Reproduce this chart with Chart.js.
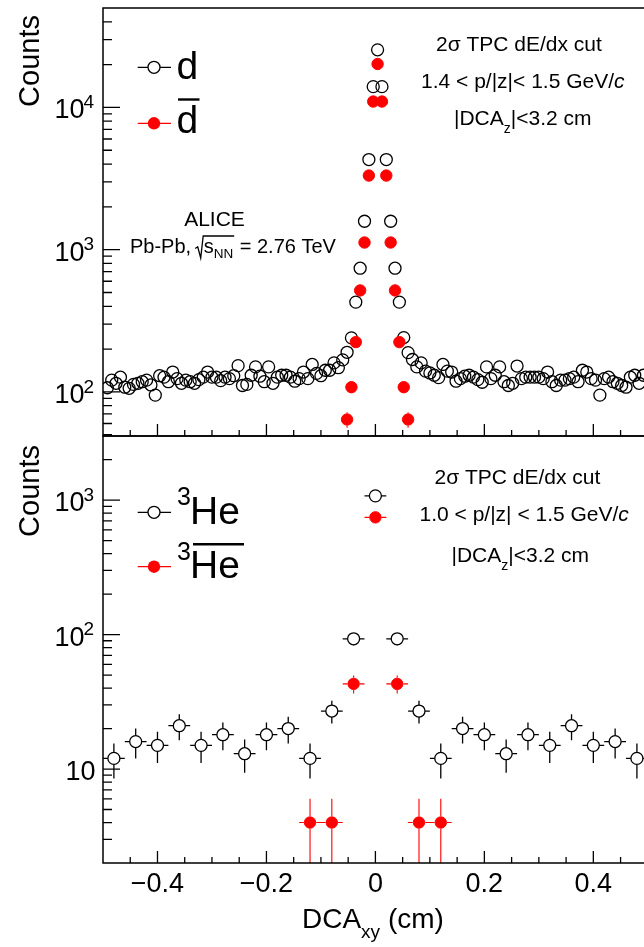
<!DOCTYPE html>
<html>
<head>
<meta charset="utf-8">
<script src="https://cdn.jsdelivr.net/npm/chart.js@4.4.1/dist/chart.umd.min.js"></script>
<style>
  html, body { margin: 0; padding: 0; background: #fff; overflow: hidden; }
  #wrap { position: relative; width: 644px; height: 947px; }
  canvas { position: absolute; left: 0; top: 0; }
</style>
</head>
<body>
<div id="wrap">
  <canvas id="cBottom" width="644" height="947"></canvas>
  <canvas id="cTop" width="644" height="947"></canvas>
</div>
<script>
// deuterons, bin centres (cm) and counts
const dDCA = [
  -0.492, -0.484, -0.476, -0.468, -0.460, -0.452, -0.444, -0.436, -0.428, -0.420,
  -0.412, -0.404, -0.396, -0.388, -0.380, -0.372, -0.364, -0.356, -0.348, -0.340,
  -0.332, -0.324, -0.316, -0.308, -0.300, -0.292, -0.284, -0.276, -0.268, -0.260,
  -0.252, -0.244, -0.236, -0.228, -0.220, -0.212, -0.204, -0.196, -0.188, -0.180,
  -0.172, -0.164, -0.156, -0.148, -0.140, -0.132, -0.124, -0.116, -0.108, -0.100,
  -0.092, -0.084, -0.076, -0.068, -0.060, -0.052, -0.044, -0.036, -0.028, -0.020,
  -0.012, -0.004,
  0.004, 0.012, 0.020, 0.028, 0.036, 0.044, 0.052, 0.060,
  0.068, 0.076, 0.084, 0.092, 0.100, 0.108, 0.116, 0.124, 0.132, 0.140,
  0.148, 0.156, 0.164, 0.172, 0.180, 0.188, 0.196, 0.204, 0.212, 0.220,
  0.228, 0.236, 0.244, 0.252, 0.260, 0.268, 0.276, 0.284, 0.292, 0.300,
  0.308, 0.316, 0.324, 0.332, 0.340, 0.348, 0.356, 0.364, 0.372, 0.380,
  0.388, 0.396, 0.404, 0.412, 0.420, 0.428, 0.436, 0.444, 0.452, 0.460,
  0.468, 0.476, 0.484, 0.492
];
const dCounts = [
  107, 121, 115, 127, 108, 106, 113, 115, 118, 121,
  112, 95, 130, 127, 118, 138, 124, 115, 121, 118,
  115, 122, 127, 138, 127, 127, 120, 127, 124, 130,
  153, 111, 113, 131, 150, 129, 118, 150, 115, 127,
  131, 131, 127, 119, 124, 138, 124, 156, 135, 130,
  142, 142, 160, 148, 168, 190, 240, 428, 741, 1585,
  4300, 14000,
  25400, 14000, 4300, 1585, 741, 428, 241, 189,
  169, 150, 160, 140, 136, 131, 126, 156, 140, 138,
  119, 124, 129, 131, 127, 122, 117, 150, 124, 131,
  150, 118, 111, 115, 152, 124, 127, 127, 127, 127,
  124, 138, 118, 111, 121, 121, 124, 127, 118, 142,
  138, 124, 121, 95, 124, 127, 118, 115, 111, 108,
  127, 131, 115, 131
];

// anti-deuterons
const dbarDCA = [-0.052, -0.044, -0.036, -0.028, -0.020, -0.012, -0.004, 0.004, 0.012, 0.020, 0.028, 0.036, 0.044, 0.052, 0.060];
const dbarCounts = [64, 108, 224, 517, 1123, 3320, 11000, 20200, 11000, 3320, 1123, 517, 224, 108, 64];
const dbarErr = [8, 10, 15, 23, 34, 58, 105, 142, 105, 58, 34, 23, 15, 10, 8];

// 3He
const he3DCA = [-0.48, -0.44, -0.40, -0.36, -0.32, -0.28, -0.24, -0.20, -0.16, -0.12, -0.08, -0.04, 0,
  0.04, 0.08, 0.12, 0.16, 0.20, 0.24, 0.28, 0.32, 0.36, 0.40, 0.44, 0.48];
const he3Counts = [12, 16, 15, 21, 15, 18, 13, 18, 20, 12, 27, 93, 1076,
  93, 27, 12, 20, 18, 13, 18, 15, 21, 15, 16, 12];
const he3Err = [3.5, 4, 3.9, 4.6, 3.9, 4.2, 3.6, 4.2, 4.5, 3.5, 5.2, 9.6, 33,
  9.6, 5.2, 3.5, 4.5, 4.2, 3.6, 4.2, 3.9, 4.6, 3.9, 4, 3.5];

// anti-3He
const he3barDCA = [-0.12, -0.08, -0.04, 0, 0.04, 0.08, 0.12];
const he3barCounts = [4, 4, 43, 745, 43, 4, 4];
const he3barErr = [2, 2, 6.6, 27, 6.6, 2, 2];

const dHalfBin = 0.004;
const heHalfBin = 0.02;

const xTickValues = [-0.4, -0.2, 0, 0.2, 0.4];
const xTickLabels = ['\u22120.4', '\u22120.2', '0', '0.2', '0.4'];
const topDecades = [2, 3, 4];
const bottomDecades = [1, 2, 3];

const FONT = '"Liberation Sans", Arial, Helvetica, sans-serif';
const RED = '#ff0000';

function pts(xs, ys) {
  return xs.map((x, i) => ({ x: x, y: ys[i] }));
}

function richText(ctx, x, y, parts) {
  parts.forEach(p => {
    ctx.font = `${p.italic ? 'italic ' : ''}${p.size}px ${FONT}`;
    ctx.fillText(p.t, x, y + (p.dy || 0));
    x += ctx.measureText(p.t).width;
  });
  return x;
}

function drawErrors(chart, xs, ys, errs, half, color, r, width) {
  const ctx = chart.ctx;
  const sx = chart.scales.x, sy = chart.scales.y;
  const a = chart.chartArea;
  ctx.save();
  ctx.beginPath();
  ctx.rect(a.left, a.top, a.right - a.left, a.bottom - a.top);
  ctx.clip();
  ctx.strokeStyle = color;
  ctx.lineWidth = width;
  ctx.beginPath();
  xs.forEach((xv, i) => {
    const px = sx.getPixelForValue(xv);
    const py = sy.getPixelForValue(ys[i]);
    const up = sy.getPixelForValue(ys[i] + errs[i]);
    const lowVal = Math.max(ys[i] - errs[i], 1e-3);
    const dn = sy.getPixelForValue(lowVal);
    if (up < py - r) { ctx.moveTo(px, py - r); ctx.lineTo(px, up); }
    if (dn > py + r) { ctx.moveTo(px, py + r); ctx.lineTo(px, dn); }
    const l = sx.getPixelForValue(xv - half), rr = sx.getPixelForValue(xv + half);
    if (l < px - r) { ctx.moveTo(px - r, py); ctx.lineTo(l, py); }
    if (rr > px + r) { ctx.moveTo(px + r, py); ctx.lineTo(rr, py); }
  });
  ctx.stroke();
  ctx.restore();
}

function drawFrame(chart, decades, withXLabels) {
  const ctx = chart.ctx;
  const a = chart.chartArea;
  const sx = chart.scales.x, sy = chart.scales.y;
  ctx.save();
  ctx.strokeStyle = '#000';
  ctx.lineWidth = 1.5;
  ctx.beginPath();
  ctx.moveTo(a.right + 2, a.top); ctx.lineTo(a.left, a.top);
  ctx.lineTo(a.left, a.bottom); ctx.lineTo(a.right + 2, a.bottom);
  ctx.stroke();

  ctx.lineWidth = 1.3;
  ctx.beginPath();
  for (let k = -9; k <= 10; k++) {
    const v = k * 0.05;
    if (v <= sx.min || v >= sx.max) continue;
    const px = sx.getPixelForValue(v);
    const len = (k % 4 === 0) ? 12 : 6;
    ctx.moveTo(px, a.bottom); ctx.lineTo(px, a.bottom - len);
  }
  const lo = Math.floor(Math.log10(sy.min)), hi = Math.ceil(Math.log10(sy.max));
  for (let e = lo; e <= hi; e++) {
    for (let m = 1; m <= 9; m++) {
      const v = m * Math.pow(10, e);
      if (v <= sy.min || v >= sy.max) continue;
      const py = sy.getPixelForValue(v);
      ctx.moveTo(a.left, py); ctx.lineTo(a.left + (m === 1 ? 17 : 9), py);
    }
  }
  ctx.stroke();

  ctx.fillStyle = '#000';
  ctx.textBaseline = 'alphabetic';
  decades.forEach(e => {
    const py = sy.getPixelForValue(Math.pow(10, e));
    ctx.font = `27px ${FONT}`;
    ctx.textAlign = 'right';
    if (e === 1) {
      ctx.fillText('10', 95.5, py + 11);
    } else {
      ctx.fillText('10', 84.5, py + 11);
      ctx.font = `19px ${FONT}`;
      ctx.textAlign = 'left';
      ctx.fillText(String(e), 83.5, py + 0.7);
    }
  });

  if (withXLabels) {
    ctx.font = `27px ${FONT}`;
    ctx.textAlign = 'center';
    xTickValues.forEach((v, i) => {
      ctx.fillText(xTickLabels[i], sx.getPixelForValue(v), a.bottom + 28.5);
    });
  }
  ctx.restore();
}

function drawCounts(ctx, cy) {
  ctx.save();
  ctx.translate(38.5, cy);
  ctx.rotate(-Math.PI / 2);
  ctx.font = `29px ${FONT}`;
  ctx.fillStyle = '#000';
  ctx.textAlign = 'center';
  ctx.textBaseline = 'alphabetic';
  ctx.fillText('Counts', 0, 0);
  ctx.restore();
}

function legendGlyph(ctx, y, filled, color) {
  const cx = 154, r = 6;
  ctx.save();
  ctx.strokeStyle = color;
  ctx.lineWidth = 1.3;
  ctx.beginPath();
  ctx.moveTo(137.7, y); ctx.lineTo(cx - r, y);
  ctx.moveTo(cx + r, y); ctx.lineTo(171, y);
  ctx.stroke();
  ctx.beginPath();
  ctx.arc(cx, y, filled ? 6.2 : r, 0, Math.PI * 2);
  if (filled) { ctx.fillStyle = color; ctx.fill(); }
  else { ctx.stroke(); }
  ctx.restore();
}

function overline(ctx, x0, x1, y) {
  ctx.save();
  ctx.strokeStyle = '#000';
  ctx.lineWidth = 2.4;
  ctx.beginPath();
  ctx.moveTo(x0, y); ctx.lineTo(x1, y);
  ctx.stroke();
  ctx.restore();
}

const topPlugin = {
  id: 'topPanel',
  beforeDatasetsDraw(chart) {
    drawErrors(chart, dbarDCA, dbarCounts, dbarErr, dHalfBin, RED, 6.2, 1.1);
  },
  afterDraw(chart) {
    const ctx = chart.ctx;
    drawFrame(chart, topDecades, false);
    drawCounts(ctx, 61);
    ctx.save();
    ctx.fillStyle = '#000';
    ctx.textAlign = 'left';
    ctx.textBaseline = 'alphabetic';

    // legend
    legendGlyph(ctx, 67.3, false, '#000');
    legendGlyph(ctx, 123.3, true, RED);
    ctx.font = `39px ${FONT}`;
    ctx.fillText('d', 176.5, 78.5);
    ctx.fillText('d', 176.5, 133);
    overline(ctx, 178, 199.5, 99.5);

    // cuts
    richText(ctx, 436, 51, [{ t: '2\u03c3 TPC dE/dx cut', size: 21 }]);
    richText(ctx, 421, 87.5, [{ t: '1.4 < p/|z|< 1.5 GeV/', size: 21 }, { t: 'c', size: 21, italic: true }]);
    richText(ctx, 454, 124.5, [{ t: '|DCA', size: 21 }, { t: 'z', size: 14, dy: 8.5 }, { t: '|<3.2 cm', size: 21 }]);

    // ALICE label
    ctx.font = `21px ${FONT}`;
    ctx.textAlign = 'center';
    ctx.fillText('ALICE', 214.5, 226);
    ctx.textAlign = 'left';
    let x = richText(ctx, 130, 253.3, [{ t: 'Pb-Pb, ', size: 20 }]);
    const sx0 = x + 1;
    ctx.strokeStyle = '#000';
    ctx.lineWidth = 1.3;
    ctx.beginPath();
    ctx.moveTo(sx0 - 2.5, 248.5);
    ctx.lineTo(sx0, 246.8);
    ctx.lineTo(sx0 + 3, 258);
    ctx.lineTo(sx0 + 5.5, 236);
    x = richText(ctx, sx0 + 6, 253.3, [{ t: 's', size: 20 }, { t: 'NN', size: 13.5, dy: 5 }]);
    ctx.lineTo(x + 1, 236);
    ctx.stroke();
    richText(ctx, x + 1, 253.3, [{ t: ' = 2.76 TeV', size: 20 }]);
    ctx.restore();
  }
};

const bottomPlugin = {
  id: 'bottomPanel',
  beforeDatasetsDraw(chart) {
    drawErrors(chart, he3DCA, he3Counts, he3Err, heHalfBin, '#000', 6, 1.3);
    drawErrors(chart, he3barDCA, he3barCounts, he3barErr, heHalfBin, RED, 6.2, 1.1);
  },
  afterDraw(chart) {
    const ctx = chart.ctx;
    drawFrame(chart, bottomDecades, true);
    drawCounts(ctx, 491);
    ctx.save();
    ctx.fillStyle = '#000';
    ctx.textAlign = 'left';
    ctx.textBaseline = 'alphabetic';

    // legend
    legendGlyph(ctx, 512.3, false, '#000');
    legendGlyph(ctx, 566.7, true, RED);
    richText(ctx, 177, 505, [{ t: '3', size: 25 }]);
    richText(ctx, 190, 523.5, [{ t: 'He', size: 39 }]);
    richText(ctx, 177, 560, [{ t: '3', size: 25 }]);
    richText(ctx, 190, 578.3, [{ t: 'He', size: 39 }]);
    overline(ctx, 193, 244, 544.3);

    // cuts
    richText(ctx, 434.5, 484, [{ t: '2\u03c3 TPC dE/dx cut', size: 21 }]);
    richText(ctx, 419.5, 520.7, [{ t: '1.0 < p/|z| < 1.5 GeV/', size: 21 }, { t: 'c', size: 21, italic: true }]);
    richText(ctx, 451.5, 561.7, [{ t: '|DCA', size: 21 }, { t: 'z', size: 14, dy: 8.5 }, { t: '|<3.2 cm', size: 21 }]);

    // x axis title
    richText(ctx, 302, 928.3, [{ t: 'DCA', size: 28 }, { t: 'xy', size: 19, dy: 9.5 }, { t: ' (cm)', size: 28 }]);
    ctx.restore();
  }
};

function panelOptions(pad, yMin, yMax) {
  return {
    responsive: false,
    devicePixelRatio: 1,
    animation: false,
    events: [],
    layout: { padding: pad, autoPadding: false },
    plugins: { legend: { display: false }, tooltip: { enabled: false } },
    scales: {
      x: { type: 'linear', min: -0.5, max: 0.493, display: false },
      y: { type: 'logarithmic', min: yMin, max: yMax, display: false }
    }
  };
}

const openCircle = {
  showLine: false,
  pointStyle: 'circle',
  pointRadius: 6,
  pointBorderWidth: 1.3,
  pointBackgroundColor: 'rgba(0,0,0,0)',
  pointBorderColor: '#000'
};
const fullCircle = {
  showLine: false,
  pointStyle: 'circle',
  pointRadius: 5.7,
  pointBorderWidth: 1,
  pointBackgroundColor: RED,
  pointBorderColor: RED
};

new Chart(document.getElementById('cTop').getContext('2d'), {
  type: 'scatter',
  data: {
    datasets: [
      Object.assign({ label: 'dbar', data: pts(dbarDCA, dbarCounts), order: 0 }, fullCircle),
      Object.assign({ label: 'd', data: pts(dDCA, dCounts), order: 1 }, openCircle)
    ]
  },
  options: panelOptions({ left: 103, right: 0, top: 8, bottom: 511 }, 49, 50000),
  plugins: [topPlugin]
});

new Chart(document.getElementById('cBottom').getContext('2d'), {
  type: 'scatter',
  data: {
    datasets: [
      Object.assign({ label: 'anti-3He', data: pts(he3barDCA, he3barCounts), order: 0 }, fullCircle),
      Object.assign({ label: '3He', data: pts(he3DCA, he3Counts), order: 1 }, openCircle)
    ]
  },
  options: panelOptions({ left: 103, right: 0, top: 436, bottom: 84 }, 2, 3000),
  plugins: [bottomPlugin]
});
</script>
</body>
</html>
